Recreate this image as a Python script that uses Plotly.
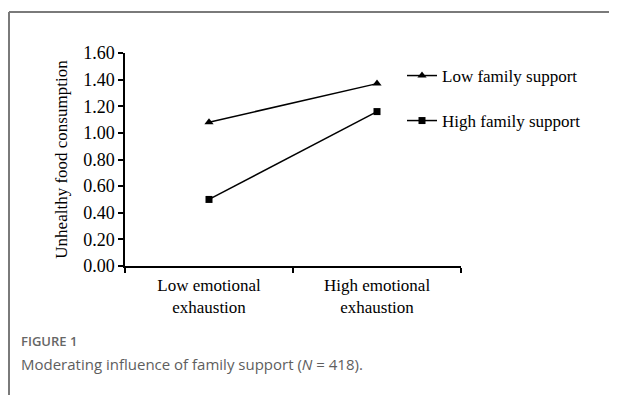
import plotly.graph_objects as go

categories = ["Low emotional<br>exhaustion", "High emotional<br>exhaustion"]
low_support = [1.08, 1.37]
high_support = [0.50, 1.16]
y_ticks = [0.0, 0.2, 0.4, 0.6, 0.8, 1.0, 1.2, 1.4, 1.6]
y_tick_labels = ["0.00", "0.20", "0.40", "0.60", "0.80", "1.00", "1.20", "1.40", "1.60"]

OFF = 8  # default page body margin
W, H = 617 - OFF, 403 - 2 * OFF
L, T = 125 - OFF, 53 - OFF
pw, ph = 336, 213
R = W - L - pw
B = H - T - ph

def px(x):
    return (x - OFF - L) / pw

def py(y):
    return (T + OFF + ph - y) / ph

serif = "Liberation Serif, Times New Roman, serif"
sans = "Open Sans, Noto Sans, sans-serif"

fig = go.Figure()
fig.add_trace(go.Scatter(
    x=categories, y=low_support, name="Low family support", mode="lines+markers",
    line=dict(color="black", width=1.5),
    marker=dict(symbol="triangle-up", size=8, color="black"),
    legend="legend",
))
fig.add_trace(go.Scatter(
    x=categories, y=high_support, name="High family support", mode="lines+markers",
    line=dict(color="black", width=1.5),
    marker=dict(symbol="square", size=7, color="black"),
    legend="legend2",
))

legend_common = dict(font=dict(family=serif, size=17, color="black"),
                     bgcolor="rgba(0,0,0,0)", itemwidth=30,
                     xanchor="left", yanchor="middle")
border = dict(color="#7a7a7a", width=2)
fig.update_layout(
    width=W, height=H,
    margin=dict(l=L, r=R, t=T, b=B, autoexpand=False),
    paper_bgcolor="white", plot_bgcolor="white",
    font=dict(family=serif, size=17, color="black"),
    showlegend=True,
    legend=dict(x=px(402), y=py(76), **legend_common),
    legend2=dict(x=px(402), y=py(121), **legend_common),
    xaxis=dict(
        type="category", range=[-0.5, 1.5],
        showline=True, linecolor="black", linewidth=1.5,
        ticks="outside", ticklen=5, tickcolor="black", tickwidth=1.5,
        tickson="boundaries", showgrid=False, zeroline=False,
        ticklabelstandoff=3,
        tickfont=dict(family=serif, size=17, color="black"),
    ),
    yaxis=dict(
        range=[0, 1.6], tickvals=y_ticks, ticktext=y_tick_labels,
        showline=True, linecolor="black", linewidth=1.5,
        ticks="outside", ticklen=5, tickcolor="black", tickwidth=1.5,
        showgrid=False, zeroline=False,
        tickfont=dict(family=serif, size=18, color="black"),
        title=dict(text="Unhealthy food consumption", standoff=11,
                   font=dict(family=serif, size=17, color="black")),
    ),
    shapes=[
        dict(type="line", xref="paper", yref="paper",
             x0=px(9), x1=px(9), y0=py(480), y1=py(12), line=border, layer="below"),
        dict(type="line", xref="paper", yref="paper",
             x0=px(9), x1=px(700), y0=py(12), y1=py(12), line=border, layer="below"),
    ],
    annotations=[
        dict(text="FIGURE 1", xref="paper", yref="paper", x=px(19), y=py(341),
             xanchor="left", yanchor="middle", showarrow=False,
             font=dict(family=sans, size=13, color="#666666", weight=600)),
        dict(text="Moderating influence of family support (<i>N</i> = 418).",
             xref="paper", yref="paper", x=px(19), y=py(364),
             xanchor="left", yanchor="middle", showarrow=False,
             font=dict(family=sans, size=15, color="#5e5e5e")),
    ],
)

fig.write_html("out.html")
